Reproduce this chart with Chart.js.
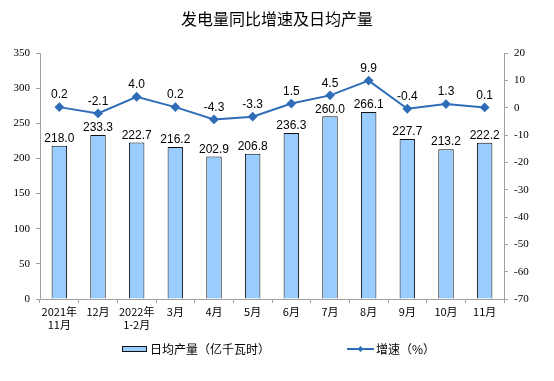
<!DOCTYPE html>
<html><head><meta charset="utf-8">
<script src="https://cdn.jsdelivr.net/npm/chart.js@4.4.1/dist/chart.umd.min.js"></script>
<style>html,body{margin:0;padding:0;background:#fff}#w{width:554px;height:381px;position:relative}</style>
</head><body><div id="w"><canvas id="c" width="554" height="381"></canvas></div>
<script>
const categories = [['2021年','11月'],'12月',['2022年','1-2月'],'3月','4月','5月','6月','7月','8月','9月','10月','11月'];
const dailyOutput = [218.0,233.3,222.7,216.2,202.9,206.8,236.3,260.0,266.1,227.7,213.2,222.2];
const growth = [0.2,-2.1,4.0,0.2,-4.3,-3.3,1.5,4.5,9.9,-0.4,1.3,0.1];
const leftTicks = [0,50,100,150,200,250,300,350];
const rightTicks = [-70,-60,-50,-40,-30,-20,-10,0,10,20];
const titleText = '发电量同比增速及日均产量';
const barLegend = '日均产量（亿千瓦时）';
const lineLegend = '增速（%）';

const CJK = '"Noto Sans CJK SC", sans-serif';
const SERIF = '"Liberation Serif", "Times New Roman", serif';
const SANS = '"Liberation Sans", Arial, sans-serif';
const BAR_FILL = '#99CCFF', BAR_BORDER = '#111', LINE = '#2F6DB8', AXIS = '#a0a0a0';

const extras = {
  id: 'extras',
  afterDatasetsDraw(chart) {
    const ctx = chart.ctx;
    ctx.save();
    ctx.fillStyle = '#000';
    ctx.font = '12px ' + SANS;
    ctx.textAlign = 'center';
    ctx.textBaseline = 'bottom';
    chart.getDatasetMeta(1).data.forEach((el, i) => {
      ctx.fillText(dailyOutput[i].toFixed(1), el.x, el.y - 1);
    });
    chart.getDatasetMeta(0).data.forEach((el, i) => {
      ctx.fillText(growth[i].toFixed(1), el.x, el.y - 6);
    });
    // title
    ctx.font = '16px ' + CJK;
    ctx.textBaseline = 'middle';
    ctx.fillText(titleText, 277, 19);
    // legend
    ctx.font = '12px ' + CJK;
    ctx.textAlign = 'left';
    ctx.fillStyle = BAR_FILL;
    ctx.strokeStyle = BAR_BORDER;
    ctx.lineWidth = 1;
    ctx.fillRect(122.5, 346.5, 24, 5);
    ctx.strokeRect(122.5, 346.5, 24, 5);
    ctx.fillStyle = '#000';
    ctx.fillText(barLegend, 150, 349);
    ctx.strokeStyle = LINE; ctx.lineWidth = 2;
    ctx.beginPath(); ctx.moveTo(347, 349); ctx.lineTo(374, 349); ctx.stroke();
    ctx.fillStyle = LINE;
    ctx.beginPath(); ctx.moveTo(360.5, 346); ctx.lineTo(363.5, 349); ctx.lineTo(360.5, 352); ctx.lineTo(357.5, 349); ctx.closePath(); ctx.fill();
    ctx.fillStyle = '#000';
    ctx.fillText(lineLegend, 376, 349);
    ctx.restore();
  }
};

new Chart(document.getElementById('c'), {
  data: {
    labels: categories,
    datasets: [
      { type: 'line', label: lineLegend, data: growth, yAxisID: 'y1', borderColor: LINE, backgroundColor: LINE,
        borderWidth: 2, pointStyle: 'rectRot', pointRadius: 3.5, pointBackgroundColor: LINE, pointBorderColor: LINE, tension: 0, order: 0 },
      { type: 'bar', label: barLegend, data: dailyOutput, yAxisID: 'y', backgroundColor: BAR_FILL, borderColor: BAR_BORDER,
        borderWidth: 1, categoryPercentage: 1, barPercentage: 0.4, order: 1 }
    ]
  },
  options: {
    responsive: false, animation: false, devicePixelRatio: 1,
    layout: { padding: { top: 53, left: 0, right: 0, bottom: 0 } },
    plugins: { legend: { display: false }, tooltip: { enabled: false }, title: { display: false } },
    scales: {
      x: {
        offset: true,
        grid: { display: true, drawOnChartArea: false, drawTicks: true, tickLength: 4, color: AXIS, offset: true },
        border: { color: AXIS },
        ticks: { color: '#000', font: { family: CJK, size: 11 }, padding: 2, maxRotation: 0, autoSkip: false },
        afterFit(s) { s.height = 82; }
      },
      y: {
        position: 'left', min: 0, max: 350,
        afterBuildTicks(s) { s.ticks = leftTicks.map(v => ({ value: v })); },
        grid: { drawOnChartArea: false, drawTicks: true, tickLength: 4, color: AXIS },
        border: { color: AXIS },
        ticks: { color: '#000', font: { family: SERIF, size: 11 }, padding: 6 },
        afterFit(s) { s.width = 40; }
      },
      y1: {
        position: 'right', min: -70, max: 20,
        afterBuildTicks(s) { s.ticks = rightTicks.map(v => ({ value: v })); },
        grid: { drawOnChartArea: false, drawTicks: true, tickLength: 4, color: AXIS },
        border: { color: AXIS },
        ticks: { color: '#000', font: { family: SERIF, size: 11 }, padding: 6 },
        afterFit(s) { s.width = 50; }
      }
    }
  },
  plugins: [extras]
});
</script></body></html>
